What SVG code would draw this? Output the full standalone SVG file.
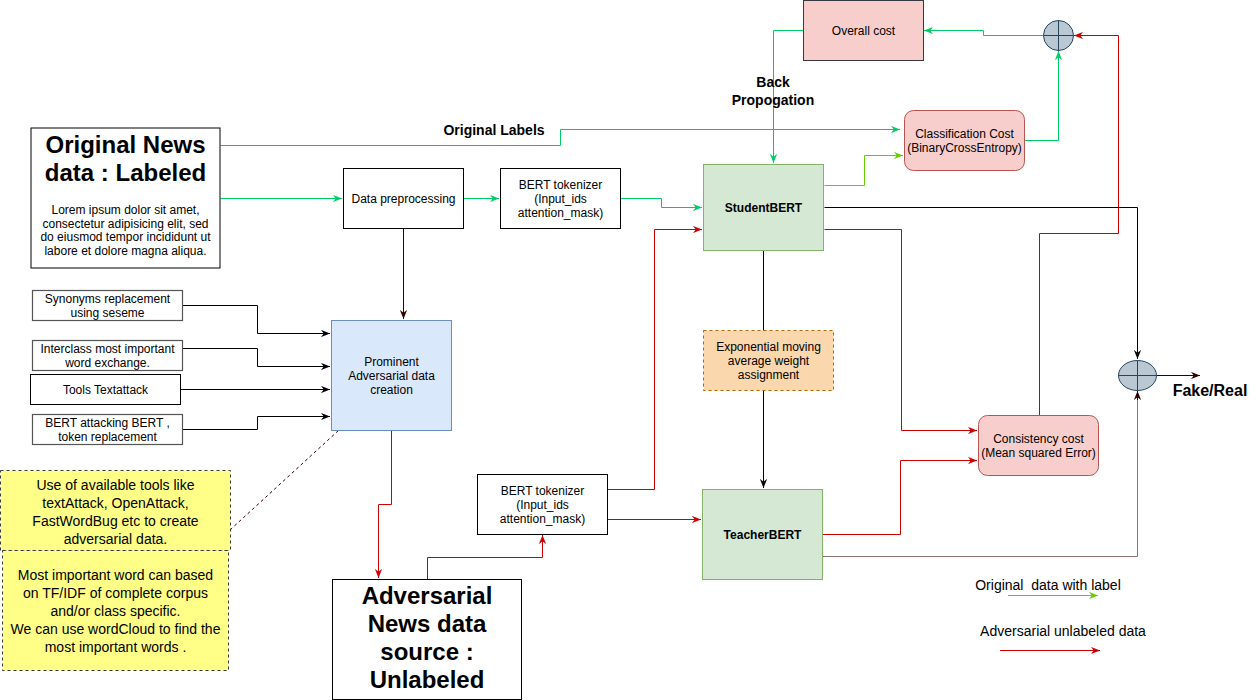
<svg xmlns="http://www.w3.org/2000/svg" width="1256" height="700" viewBox="0 0 1256 700">
<style>
text{font-family:"Liberation Sans",Arial,sans-serif;font-size:12px;fill:#000;text-anchor:middle;dominant-baseline:central}
.b{font-weight:bold}
.t24{font-size:24px;font-weight:bold}
.t14{font-size:14px}
.box{fill:#fff;stroke:#000;stroke-width:1}
.gbox{fill:#fff;stroke:#555;stroke-width:1.2}
.green{fill:#d5e8d4;stroke:#82b366;stroke-width:1}
.blue{fill:#dae8fc;stroke:#6c8ebf;stroke-width:1}
.pink{fill:#f8cecc;stroke:#b85450;stroke-width:1}
.orange{fill:#fad7ac;stroke:#b46504;stroke-width:1;stroke-dasharray:3 3}
.note{fill:#ffff88;stroke:#36393d;stroke-width:1;stroke-dasharray:3 3}
.sum{fill:#bac8d3;stroke:#23445d;stroke-width:1}
.c path,.c line{fill:none;stroke-width:1}
.g{stroke:#00cc66}
.l{stroke:#66cc00}
.r{stroke:#cc0000}
.k{stroke:#000}
.d{stroke:#330000}
</style>
<defs>
<marker id="ag" viewBox="0 0 10 8" refX="10" refY="4" markerWidth="9" markerHeight="7.2" markerUnits="userSpaceOnUse" orient="auto"><path d="M0,0 L10,4 L0,8 L3,4 Z" fill="#00cc66"/></marker>
<marker id="al" viewBox="0 0 10 8" refX="10" refY="4" markerWidth="9" markerHeight="7.2" markerUnits="userSpaceOnUse" orient="auto"><path d="M0,0 L10,4 L0,8 L3,4 Z" fill="#66cc00"/></marker>
<marker id="ar" viewBox="0 0 10 8" refX="10" refY="4" markerWidth="9" markerHeight="7.2" markerUnits="userSpaceOnUse" orient="auto"><path d="M0,0 L10,4 L0,8 L3,4 Z" fill="#cc0000"/></marker>
<marker id="ak" viewBox="0 0 10 8" refX="10" refY="4" markerWidth="9" markerHeight="7.2" markerUnits="userSpaceOnUse" orient="auto"><path d="M0,0 L10,4 L0,8 L3,4 Z" fill="#000"/></marker>
<marker id="ad" viewBox="0 0 10 8" refX="10" refY="4" markerWidth="9" markerHeight="7.2" markerUnits="userSpaceOnUse" orient="auto"><path d="M0,0 L10,4 L0,8 L3,4 Z" fill="#330000"/></marker>
</defs>
<rect width="1256" height="700" fill="#fff"/>

<g id="connectors" class="c">
<path class="g" d="M220.5,145.5 H560.5 V129.5 H900" marker-end="url(#ag)"/>
<path class="g" d="M220.5,198.5 H342" marker-end="url(#ag)"/>
<path class="g" d="M463.5,198.5 H499" marker-end="url(#ag)"/>
<path class="g" d="M620.5,198.5 H661.5 V207.5 H702" marker-end="url(#ag)"/>
<path class="l" d="M824.5,185.5 H864.5 V155.5 H903" marker-end="url(#al)"/>
<path class="g" d="M803,30.5 H773.5 V163" marker-end="url(#ag)"/>
<path class="g" d="M1043,35.5 H983.5 V30.5 H924" marker-end="url(#ag)"/>
<path class="g" d="M1024.5,140.5 H1058.5 V51" marker-end="url(#ag)"/>
<path class="r" d="M1039.5,416 V233.5 H1118.5 V35.5 H1074" marker-end="url(#ar)"/>
<path class="k" d="M824.5,207.5 H1137.5 V359" marker-end="url(#ak)"/>
<path class="r" d="M824.5,229.5 H901.5 V430.5 H977" marker-end="url(#ar)"/>
<path class="r" d="M822.5,534.5 H900.5 V460.5 H977" marker-end="url(#ar)"/>
<path class="d" stroke-opacity="0.55" d="M822.5,556.5 H1137.5 V391"/>
<path class="d" d="M1137.5,400 V391" marker-end="url(#ad)"/>
<path class="d" d="M1156.5,375.5 H1200" marker-end="url(#ad)"/>
<path class="k" d="M763.5,250 V331"/>
<path class="k" d="M763.5,390 V488" marker-end="url(#ak)"/>
<path class="d" d="M403.5,228 V319" marker-end="url(#ad)"/>
<path class="k" d="M182,305.5 H257.5 V333.5 H330" marker-end="url(#ak)"/>
<path class="k" d="M182,348.5 H257.5 V366.5 H330" marker-end="url(#ak)"/>
<path class="k" d="M180,389.5 H330" marker-end="url(#ak)"/>
<path class="k" d="M182,429.5 H257.5 V416.5 H330" marker-end="url(#ak)"/>
<path class="d" stroke-dasharray="3 3" d="M230,530 L339,430"/>
<path class="r" d="M391.5,430 V504.5 H378.5 V578" marker-end="url(#ar)"/>
<path class="r" d="M427.5,579 V557.5 H542.5 V535" marker-end="url(#ar)"/>
<path class="r" d="M607,489.5 H654.5 V229.5 H702" marker-end="url(#ar)"/>
<path class="r" d="M607,519.5 H701" marker-end="url(#ar)"/>
<path class="l" d="M1008,595.5 H1098" marker-end="url(#al)"/>
<path class="r" d="M1000,650.5 H1100" marker-end="url(#ar)"/>
</g>

<g id="original-news">
<rect class="box" x="31" y="128" width="189" height="140"/>
<text class="t24" x="125.5" y="144">Original News</text>
<text class="t24" x="125.5" y="172">data : Labeled</text>
<text x="125.5" y="210">Lorem ipsum dolor sit amet,</text>
<text x="125.5" y="223.6">consectetur adipisicing elit, sed</text>
<text x="125.5" y="237.2">do eiusmod tempor incididunt ut</text>
<text x="125.5" y="250.8">labore et dolore magna aliqua.</text>
</g>
<g id="original-labels-label"><text class="b t14" x="494" y="130">Original Labels</text></g>
<g id="data-preprocessing">
<rect class="box" x="343.5" y="168.5" width="120" height="60"/>
<text x="403.5" y="198.5">Data preprocessing</text>
</g>
<g id="bert-tokenizer-1">
<rect class="box" x="500.5" y="168.5" width="120" height="60"/>
<text x="560.5" y="185">BERT tokenizer</text>
<text x="560.5" y="199">(Input_ids</text>
<text x="560.5" y="213">attention_mask)</text>
</g>
<g id="overall-cost">
<rect class="pink" style="stroke:#36393d" x="803.5" y="0.5" width="120" height="60"/>
<text x="863.5" y="30.5">Overall cost</text>
</g>
<g id="back-prop-label">
<text class="b t14" x="773" y="82">Back</text>
<text class="b t14" x="773" y="100">Propogation</text>
</g>
<g id="classification-cost">
<rect class="pink" x="904.5" y="110.5" width="120" height="60" rx="9"/>
<text x="964.5" y="133.5">Classification Cost</text>
<text x="964.5" y="147.5">(BinaryCrossEntropy)</text>
</g>
<g id="sum-1">
<circle class="sum" cx="1058.5" cy="35.5" r="15"/>
<path d="M1043.5,35.5 H1073.5 M1058.5,20.5 V50.5" stroke="#23445d" fill="none"/>
</g>
<g id="student-bert">
<rect class="green" x="703.5" y="164.5" width="120" height="86"/>
<text class="b" x="763.5" y="207.5">StudentBERT</text>
</g>
<g id="ema">
<rect class="orange" x="703.5" y="330.5" width="130" height="60"/>
<text x="768.5" y="347">Exponential moving</text>
<text x="768.5" y="361">average weight</text>
<text x="768.5" y="375">assignment</text>
</g>
<g id="teacher-bert">
<rect class="green" x="702.5" y="489.5" width="120" height="90"/>
<text class="b" x="762.5" y="534.5">TeacherBERT</text>
</g>
<g id="consistency-cost">
<rect class="pink" x="978.5" y="415.5" width="120" height="60" rx="9"/>
<text x="1038.5" y="439">Consistency cost</text>
<text x="1038.5" y="453">(Mean squared Error)</text>
</g>
<g id="sum-2">
<ellipse class="sum" cx="1137.5" cy="375.5" rx="19" ry="15"/>
<path d="M1118.5,375.5 H1156.5 M1137.5,360.5 V390.5" stroke="#23445d" fill="none"/>
</g>
<g id="fake-real"><text class="b" style="font-size:16px" x="1210" y="390">Fake/Real</text></g>
<g id="synonyms">
<rect class="gbox" x="32.5" y="290.5" width="150" height="30"/>
<text x="107.5" y="299">Synonyms replacement</text>
<text x="107.5" y="313">using seseme</text>
</g>
<g id="interclass">
<rect class="gbox" x="32.5" y="340.5" width="150" height="30"/>
<text x="107.5" y="349">Interclass most important</text>
<text x="107.5" y="363">word exchange.</text>
</g>
<g id="tools-textattack">
<rect class="box" x="30.5" y="374.5" width="150" height="30"/>
<text x="105.5" y="389.5">Tools Textattack</text>
</g>
<g id="bert-attacking">
<rect class="gbox" x="32.5" y="414.5" width="150" height="30"/>
<text x="107.5" y="423">BERT attacking BERT ,</text>
<text x="107.5" y="437">token replacement</text>
</g>
<g id="prominent">
<rect class="blue" x="331.5" y="320.5" width="120" height="110"/>
<text x="391.5" y="362">Prominent</text>
<text x="391.5" y="376">Adversarial data</text>
<text x="391.5" y="390">creation</text>
</g>
<g id="note-tools">
<rect class="note" x="0.5" y="470.5" width="230" height="80"/>
<text class="t14" x="115.5" y="484.5">Use of available tools like</text>
<text class="t14" x="115.5" y="502.5">textAttack, OpenAttack,</text>
<text class="t14" x="115.5" y="520.5">FastWordBug etc to create</text>
<text class="t14" x="115.5" y="538.5">adversarial data.</text>
</g>
<g id="note-important">
<rect class="note" x="2.5" y="550.5" width="226" height="120"/>
<text class="t14" x="115.5" y="575">Most important word can based</text>
<text class="t14" x="115.5" y="593">on TF/IDF of complete corpus</text>
<text class="t14" x="115.5" y="611">and/or class specific.</text>
<text class="t14" x="115.5" y="629">We can use wordCloud to find the</text>
<text class="t14" x="115.5" y="647">most important words .</text>
</g>
<g id="adversarial-news">
<rect class="box" x="332.5" y="579.5" width="189" height="120"/>
<text class="t24" x="427" y="595">Adversarial</text>
<text class="t24" x="427" y="623">News data</text>
<text class="t24" x="427" y="651">source :</text>
<text class="t24" x="427" y="679">Unlabeled</text>
</g>
<g id="bert-tokenizer-2">
<rect class="box" x="477.5" y="474.5" width="130" height="60"/>
<text x="542.5" y="491">BERT tokenizer</text>
<text x="542.5" y="505">(Input_ids</text>
<text x="542.5" y="519">attention_mask)</text>
</g>
<g id="legend">
<text class="t14" x="1048" y="585" xml:space="preserve">Original  data with label</text>
<text class="t14" x="1063" y="631">Adversarial unlabeled data</text>
</g>
</svg>
